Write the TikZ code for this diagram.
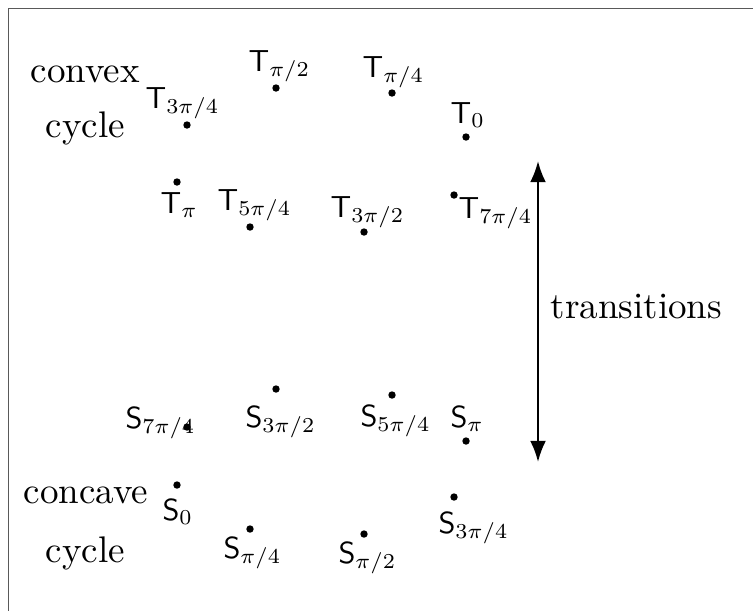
\documentclass[tikz,border=0pt]{standalone}
\usetikzlibrary{arrows.meta}

\tikzset{
  pt/.style={inner sep=0pt, anchor=base west, scale=0.82},
  word/.style={inner sep=0pt, anchor=base west},
}

\begin{document}
\begin{tikzpicture}[x=0.27pt, y=-0.27pt, >=Latex]
                \useasboundingbox (0,0) rectangle (753,610);
                \draw[gray!70!black, line width=0.5pt] (8.5,620) -- (8.5,8.5) -- (760,8.5);
                
                % convex cycle
                \coordinate (T0) at (466,137);
                \coordinate (T1) at (392,93);
                \coordinate (T2) at (276,88);
                \coordinate (T3) at (187,125);
                \coordinate (T4) at (177,182);
                \coordinate (T5) at (250,227);
                \coordinate (T6) at (364,232);
                \coordinate (T7) at (454,195);
                
                % concave cycle
                \coordinate (S0) at (177,485);
                \coordinate (S1) at (250,529);
                \coordinate (S2) at (364,534);
                \coordinate (S3) at (454,497);
                \coordinate (S4) at (466,441);
                \coordinate (S5) at (392,395);
                \coordinate (S6) at (276,389);
                \coordinate (S7) at (187,427);
                
                \foreach \p in {T0,T1,T2,T3,T4,T5,T6,T7,S0,S1,S2,S3,S4,S5,S6,S7}
                    \fill (\p) circle (1pt);
                
                \node[pt] (lT0) at (450,123) {$\mathsf{T}_{0}$};
                \node[pt] (lT1) at (362,77) {$\mathsf{T}_{\pi/4}$};
                \node[pt] (lT2) at (248,71) {$\mathsf{T}_{\pi/2}$};
                \node[pt] (lT3) at (145,108) {$\mathsf{T}_{3\pi/4}$};
                \node[pt] (lT4) at (160,213) {$\mathsf{T}_{\pi}$};
                \node[pt] (lT5) at (217,210) {$\mathsf{T}_{5\pi/4}$};
                \node[pt] (lT6) at (330,217) {$\mathsf{T}_{3\pi/2}$};
                \node[pt] (lT7) at (458,218) {$\mathsf{T}_{7\pi/4}$};
                
                \node[pt] (lS0) at (162,520) {$\mathsf{S}_{0}$};
                \node[pt] (lS1) at (223,558) {$\mathsf{S}_{\pi/4}$};
                \node[pt] (lS2) at (338,563) {$\mathsf{S}_{\pi/2}$};
                \node[pt] (lS3) at (438,533) {$\mathsf{S}_{3\pi/4}$};
                \node[pt] (lS4) at (450,427) {$\mathsf{S}_{\pi}$};
                \node[pt] (lS5) at (360,426) {$\mathsf{S}_{5\pi/4}$};
                \node[pt] (lS6) at (245,427) {$\mathsf{S}_{3\pi/2}$};
                \node[pt] (lS7) at (125,428) {$\mathsf{S}_{7\pi/4}$};
                
                \node[word] (convex) at (30,82) {convex};
                \node[word] (ccycle) at (45,137) {cycle};
                \node[word] (concave) at (23,503) {concave};
                \node[word] (scycle) at (45,562) {cycle};
                
                \coordinate (top) at (538,161);
                \coordinate (bot) at (538,462);
                \draw[<->, semithick] (top) -- (bot);
                \node[word] (trans) at (550,318) {transitions};
            \end{tikzpicture}
\end{document}
